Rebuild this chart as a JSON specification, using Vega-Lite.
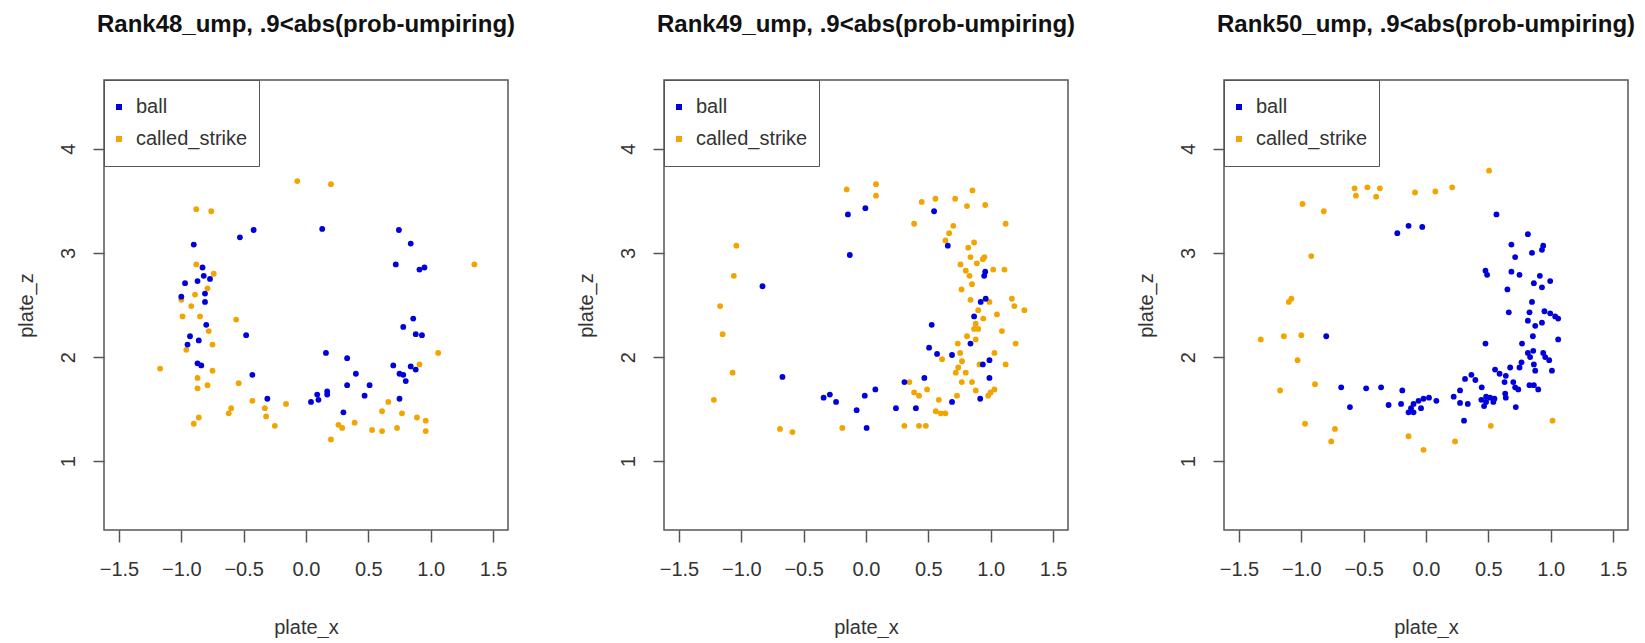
{
"$schema": "https://vega.github.io/schema/vega-lite/v6.json",
"background": "white",
"padding": {"left": 15, "top": 11, "right": 0, "bottom": 0},
"datasets": {
"p48": [
{"x":-0.07,"z":3.69,"t":"called_strike"},{"x":0.20,"z":3.66,"t":"called_strike"},{"x":-0.88,"z":3.42,"t":"called_strike"},{"x":-0.76,"z":3.40,"t":"called_strike"},{"x":-0.88,"z":2.89,"t":"called_strike"},{"x":-0.74,"z":2.80,"t":"called_strike"},{"x":-0.79,"z":2.66,"t":"called_strike"},{"x":-0.89,"z":2.60,"t":"called_strike"},{"x":-1.00,"z":2.55,"t":"called_strike"},{"x":-0.92,"z":2.49,"t":"called_strike"},{"x":-0.99,"z":2.39,"t":"called_strike"},{"x":-0.85,"z":2.39,"t":"called_strike"},{"x":-0.56,"z":2.36,"t":"called_strike"},{"x":-0.78,"z":2.25,"t":"called_strike"},{"x":-0.75,"z":2.12,"t":"called_strike"},{"x":-0.96,"z":2.07,"t":"called_strike"},{"x":-1.17,"z":1.89,"t":"called_strike"},{"x":-0.75,"z":1.87,"t":"called_strike"},{"x":-0.87,"z":1.80,"t":"called_strike"},{"x":-0.54,"z":1.75,"t":"called_strike"},{"x":-0.79,"z":1.73,"t":"called_strike"},{"x":-0.87,"z":1.70,"t":"called_strike"},{"x":-0.43,"z":1.58,"t":"called_strike"},{"x":-0.16,"z":1.55,"t":"called_strike"},{"x":-0.60,"z":1.51,"t":"called_strike"},{"x":-0.62,"z":1.46,"t":"called_strike"},{"x":-0.33,"z":1.51,"t":"called_strike"},{"x":-0.32,"z":1.43,"t":"called_strike"},{"x":-0.86,"z":1.42,"t":"called_strike"},{"x":-0.90,"z":1.36,"t":"called_strike"},{"x":-0.25,"z":1.34,"t":"called_strike"},{"x":0.26,"z":1.35,"t":"called_strike"},{"x":0.29,"z":1.32,"t":"called_strike"},{"x":0.39,"z":1.37,"t":"called_strike"},{"x":0.53,"z":1.30,"t":"called_strike"},{"x":0.20,"z":1.21,"t":"called_strike"},{"x":1.35,"z":2.89,"t":"called_strike"},{"x":1.06,"z":2.04,"t":"called_strike"},{"x":0.91,"z":1.93,"t":"called_strike"},{"x":0.66,"z":1.57,"t":"called_strike"},{"x":0.61,"z":1.48,"t":"called_strike"},{"x":0.77,"z":1.46,"t":"called_strike"},{"x":0.89,"z":1.42,"t":"called_strike"},{"x":0.96,"z":1.39,"t":"called_strike"},{"x":0.61,"z":1.29,"t":"called_strike"},{"x":0.73,"z":1.32,"t":"called_strike"},{"x":0.96,"z":1.29,"t":"called_strike"},
{"x":0.13,"z":3.23,"t":"ball"},{"x":-0.42,"z":3.22,"t":"ball"},{"x":-0.53,"z":3.15,"t":"ball"},{"x":-0.90,"z":3.08,"t":"ball"},{"x":-0.83,"z":2.86,"t":"ball"},{"x":-0.82,"z":2.78,"t":"ball"},{"x":-0.77,"z":2.75,"t":"ball"},{"x":-0.87,"z":2.73,"t":"ball"},{"x":-0.97,"z":2.71,"t":"ball"},{"x":-0.81,"z":2.61,"t":"ball"},{"x":-1.00,"z":2.58,"t":"ball"},{"x":-0.81,"z":2.53,"t":"ball"},{"x":-0.80,"z":2.31,"t":"ball"},{"x":-0.48,"z":2.21,"t":"ball"},{"x":-0.93,"z":2.20,"t":"ball"},{"x":-0.86,"z":2.16,"t":"ball"},{"x":-0.95,"z":2.12,"t":"ball"},{"x":0.16,"z":2.04,"t":"ball"},{"x":0.33,"z":1.99,"t":"ball"},{"x":-0.87,"z":1.94,"t":"ball"},{"x":-0.84,"z":1.92,"t":"ball"},{"x":-0.43,"z":1.83,"t":"ball"},{"x":0.40,"z":1.84,"t":"ball"},{"x":0.33,"z":1.73,"t":"ball"},{"x":0.51,"z":1.73,"t":"ball"},{"x":0.17,"z":1.67,"t":"ball"},{"x":0.17,"z":1.64,"t":"ball"},{"x":0.09,"z":1.64,"t":"ball"},{"x":0.10,"z":1.59,"t":"ball"},{"x":0.04,"z":1.57,"t":"ball"},{"x":0.47,"z":1.63,"t":"ball"},{"x":-0.31,"z":1.60,"t":"ball"},{"x":0.30,"z":1.47,"t":"ball"},{"x":0.745,"z":3.22,"t":"ball"},{"x":0.84,"z":3.09,"t":"ball"},{"x":0.72,"z":2.89,"t":"ball"},{"x":0.91,"z":2.84,"t":"ball"},{"x":0.95,"z":2.86,"t":"ball"},{"x":0.86,"z":2.37,"t":"ball"},{"x":0.78,"z":2.29,"t":"ball"},{"x":0.88,"z":2.22,"t":"ball"},{"x":0.93,"z":2.21,"t":"ball"},{"x":0.70,"z":1.92,"t":"ball"},{"x":0.84,"z":1.91,"t":"ball"},{"x":0.88,"z":1.88,"t":"ball"},{"x":0.75,"z":1.84,"t":"ball"},{"x":0.78,"z":1.83,"t":"ball"},{"x":0.80,"z":1.77,"t":"ball"},{"x":0.75,"z":1.60,"t":"ball"}
],
"p49": [
{"x":-0.155,"z":3.61,"t":"called_strike"},{"x":0.08,"z":3.66,"t":"called_strike"},{"x":0.08,"z":3.55,"t":"called_strike"},{"x":-1.04,"z":3.07,"t":"called_strike"},{"x":-1.06,"z":2.78,"t":"called_strike"},{"x":-1.17,"z":2.49,"t":"called_strike"},{"x":-1.15,"z":2.22,"t":"called_strike"},{"x":-1.07,"z":1.85,"t":"called_strike"},{"x":-1.22,"z":1.59,"t":"called_strike"},{"x":-0.69,"z":1.31,"t":"called_strike"},{"x":-0.59,"z":1.28,"t":"called_strike"},{"x":-0.19,"z":1.32,"t":"called_strike"},
{"x":0.447,"z":3.49,"t":"called_strike"},{"x":0.557,"z":3.52,"t":"called_strike"},{"x":0.715,"z":3.52,"t":"called_strike"},{"x":0.854,"z":3.60,"t":"called_strike"},{"x":0.81,"z":3.45,"t":"called_strike"},{"x":0.956,"z":3.46,"t":"called_strike"},{"x":0.386,"z":3.28,"t":"called_strike"},{"x":0.70,"z":3.26,"t":"called_strike"},{"x":0.667,"z":3.19,"t":"called_strike"},{"x":0.637,"z":3.12,"t":"called_strike"},{"x":1.12,"z":3.28,"t":"called_strike"},{"x":0.82,"z":3.05,"t":"called_strike"},{"x":0.867,"z":3.10,"t":"called_strike"},{"x":0.838,"z":2.96,"t":"called_strike"},{"x":0.758,"z":2.89,"t":"called_strike"},{"x":0.889,"z":2.90,"t":"called_strike"},{"x":0.937,"z":2.94,"t":"called_strike"},{"x":0.95,"z":2.96,"t":"called_strike"},{"x":0.80,"z":2.83,"t":"called_strike"},{"x":0.83,"z":2.78,"t":"called_strike"},{"x":1.02,"z":2.84,"t":"called_strike"},{"x":1.11,"z":2.84,"t":"called_strike"},{"x":0.766,"z":2.65,"t":"called_strike"},{"x":0.85,"z":2.70,"t":"called_strike"},{"x":0.838,"z":2.55,"t":"called_strike"},{"x":0.99,"z":2.53,"t":"called_strike"},{"x":1.17,"z":2.56,"t":"called_strike"},{"x":1.19,"z":2.49,"t":"called_strike"},{"x":1.27,"z":2.45,"t":"called_strike"},{"x":1.05,"z":2.41,"t":"called_strike"},{"x":0.90,"z":2.45,"t":"called_strike"},{"x":0.94,"z":2.37,"t":"called_strike"},{"x":0.88,"z":2.32,"t":"called_strike"},{"x":0.867,"z":2.27,"t":"called_strike"},{"x":0.90,"z":2.27,"t":"called_strike"},{"x":1.09,"z":2.25,"t":"called_strike"},{"x":0.81,"z":2.20,"t":"called_strike"},{"x":0.88,"z":2.17,"t":"called_strike"},{"x":1.20,"z":2.13,"t":"called_strike"},{"x":0.736,"z":2.13,"t":"called_strike"},{"x":0.61,"z":1.98,"t":"called_strike"},{"x":0.755,"z":2.04,"t":"called_strike"},{"x":0.77,"z":1.96,"t":"called_strike"},{"x":1.03,"z":2.04,"t":"called_strike"},{"x":0.91,"z":1.93,"t":"called_strike"},{"x":1.12,"z":1.93,"t":"called_strike"},{"x":0.74,"z":1.90,"t":"called_strike"},{"x":0.72,"z":1.85,"t":"called_strike"},{"x":0.80,"z":1.85,"t":"called_strike"},{"x":0.348,"z":1.76,"t":"called_strike"},{"x":0.768,"z":1.76,"t":"called_strike"},{"x":0.85,"z":1.76,"t":"called_strike"},{"x":0.49,"z":1.69,"t":"called_strike"},{"x":0.386,"z":1.66,"t":"called_strike"},{"x":0.425,"z":1.63,"t":"called_strike"},{"x":0.88,"z":1.68,"t":"called_strike"},{"x":1.03,"z":1.69,"t":"called_strike"},{"x":1.00,"z":1.66,"t":"called_strike"},{"x":0.98,"z":1.63,"t":"called_strike"},{"x":0.73,"z":1.63,"t":"called_strike"},{"x":0.584,"z":1.59,"t":"called_strike"},{"x":0.56,"z":1.48,"t":"called_strike"},{"x":0.60,"z":1.46,"t":"called_strike"},{"x":0.637,"z":1.46,"t":"called_strike"},{"x":0.308,"z":1.34,"t":"called_strike"},{"x":0.425,"z":1.34,"t":"called_strike"},{"x":0.48,"z":1.34,"t":"called_strike"},
{"x":-0.145,"z":3.37,"t":"ball"},{"x":-0.005,"z":3.43,"t":"ball"},{"x":-0.13,"z":2.98,"t":"ball"},{"x":-0.83,"z":2.68,"t":"ball"},{"x":-0.67,"z":1.81,"t":"ball"},{"x":-0.34,"z":1.61,"t":"ball"},{"x":-0.29,"z":1.64,"t":"ball"},{"x":-0.24,"z":1.57,"t":"ball"},{"x":-0.075,"z":1.49,"t":"ball"},{"x":-0.01,"z":1.63,"t":"ball"},{"x":0.075,"z":1.69,"t":"ball"},{"x":0.24,"z":1.51,"t":"ball"},{"x":0.005,"z":1.32,"t":"ball"},{"x":0.546,"z":3.40,"t":"ball"},{"x":0.656,"z":3.07,"t":"ball"},{"x":0.956,"z":2.82,"t":"ball"},{"x":0.948,"z":2.78,"t":"ball"},{"x":0.92,"z":2.53,"t":"ball"},{"x":0.96,"z":2.56,"t":"ball"},{"x":0.867,"z":2.39,"t":"ball"},{"x":0.527,"z":2.31,"t":"ball"},{"x":0.838,"z":2.13,"t":"ball"},{"x":0.506,"z":2.09,"t":"ball"},{"x":0.57,"z":2.03,"t":"ball"},{"x":0.69,"z":2.02,"t":"ball"},{"x":0.937,"z":1.93,"t":"ball"},{"x":0.99,"z":1.97,"t":"ball"},{"x":0.99,"z":1.80,"t":"ball"},{"x":0.468,"z":1.80,"t":"ball"},{"x":0.308,"z":1.76,"t":"ball"},{"x":0.916,"z":1.60,"t":"ball"},{"x":0.69,"z":1.57,"t":"ball"},{"x":0.40,"z":1.51,"t":"ball"}
],
"p50": [
{"x":-0.573,"z":3.62,"t":"called_strike"},{"x":-0.47,"z":3.63,"t":"called_strike"},{"x":-0.37,"z":3.62,"t":"called_strike"},{"x":-0.562,"z":3.55,"t":"called_strike"},{"x":-0.40,"z":3.54,"t":"called_strike"},{"x":-0.99,"z":3.47,"t":"called_strike"},{"x":-0.82,"z":3.40,"t":"called_strike"},{"x":-0.92,"z":2.97,"t":"called_strike"},{"x":-1.08,"z":2.56,"t":"called_strike"},{"x":-1.10,"z":2.53,"t":"called_strike"},{"x":-1.325,"z":2.17,"t":"called_strike"},{"x":-1.14,"z":2.20,"t":"called_strike"},{"x":-1.00,"z":2.21,"t":"called_strike"},{"x":-1.03,"z":1.97,"t":"called_strike"},{"x":-0.89,"z":1.74,"t":"called_strike"},{"x":-1.17,"z":1.68,"t":"called_strike"},{"x":-0.97,"z":1.36,"t":"called_strike"},{"x":-0.73,"z":1.31,"t":"called_strike"},{"x":-0.76,"z":1.19,"t":"called_strike"},{"x":-0.14,"z":1.24,"t":"called_strike"},{"x":0.506,"z":3.79,"t":"called_strike"},{"x":-0.088,"z":3.58,"t":"called_strike"},{"x":0.075,"z":3.59,"t":"called_strike"},{"x":0.21,"z":3.63,"t":"called_strike"},{"x":0.52,"z":1.34,"t":"called_strike"},{"x":1.015,"z":1.39,"t":"called_strike"},{"x":-0.02,"z":1.11,"t":"called_strike"},{"x":0.233,"z":1.19,"t":"called_strike"},
{"x":-0.23,"z":3.19,"t":"ball"},{"x":-0.14,"z":3.26,"t":"ball"},{"x":-0.03,"z":3.25,"t":"ball"},{"x":-0.80,"z":2.20,"t":"ball"},{"x":-0.68,"z":1.71,"t":"ball"},{"x":-0.48,"z":1.70,"t":"ball"},{"x":-0.36,"z":1.71,"t":"ball"},{"x":-0.19,"z":1.68,"t":"ball"},{"x":-0.61,"z":1.52,"t":"ball"},{"x":-0.30,"z":1.54,"t":"ball"},{"x":-0.20,"z":1.55,"t":"ball"},{"x":-0.14,"z":1.47,"t":"ball"},{"x":0.565,"z":3.37,"t":"ball"},{"x":0.817,"z":3.18,"t":"ball"},{"x":0.685,"z":3.08,"t":"ball"},{"x":0.94,"z":3.07,"t":"ball"},{"x":0.93,"z":3.03,"t":"ball"},{"x":0.85,"z":3.00,"t":"ball"},{"x":0.715,"z":2.96,"t":"ball"},{"x":0.477,"z":2.83,"t":"ball"},{"x":0.49,"z":2.79,"t":"ball"},{"x":0.685,"z":2.82,"t":"ball"},{"x":0.75,"z":2.79,"t":"ball"},{"x":0.913,"z":2.78,"t":"ball"},{"x":0.996,"z":2.73,"t":"ball"},{"x":0.865,"z":2.71,"t":"ball"},{"x":0.93,"z":2.67,"t":"ball"},{"x":0.653,"z":2.65,"t":"ball"},{"x":0.85,"z":2.53,"t":"ball"},{"x":0.664,"z":2.43,"t":"ball"},{"x":0.83,"z":2.43,"t":"ball"},{"x":0.95,"z":2.44,"t":"ball"},{"x":0.996,"z":2.42,"t":"ball"},{"x":1.036,"z":2.39,"t":"ball"},{"x":1.06,"z":2.37,"t":"ball"},{"x":0.817,"z":2.35,"t":"ball"},{"x":0.876,"z":2.30,"t":"ball"},{"x":0.93,"z":2.33,"t":"ball"},{"x":0.857,"z":2.20,"t":"ball"},{"x":1.06,"z":2.17,"t":"ball"},{"x":0.477,"z":2.13,"t":"ball"},{"x":0.77,"z":2.13,"t":"ball"},{"x":0.817,"z":2.04,"t":"ball"},{"x":0.86,"z":2.06,"t":"ball"},{"x":0.94,"z":2.04,"t":"ball"},{"x":0.835,"z":2.00,"t":"ball"},{"x":0.956,"z":2.00,"t":"ball"},{"x":0.865,"z":1.93,"t":"ball"},{"x":0.988,"z":1.97,"t":"ball"},{"x":0.766,"z":1.95,"t":"ball"},{"x":0.75,"z":1.90,"t":"ball"},{"x":0.675,"z":1.90,"t":"ball"},{"x":0.876,"z":1.87,"t":"ball"},{"x":1.01,"z":1.87,"t":"ball"},{"x":0.554,"z":1.88,"t":"ball"},{"x":0.59,"z":1.84,"t":"ball"},{"x":0.64,"z":1.82,"t":"ball"},{"x":0.63,"z":1.76,"t":"ball"},{"x":0.70,"z":1.76,"t":"ball"},{"x":0.715,"z":1.71,"t":"ball"},{"x":0.74,"z":1.69,"t":"ball"},{"x":0.83,"z":1.73,"t":"ball"},{"x":0.865,"z":1.73,"t":"ball"},{"x":0.90,"z":1.69,"t":"ball"},{"x":0.635,"z":1.65,"t":"ball"},{"x":0.64,"z":1.61,"t":"ball"},{"x":0.72,"z":1.52,"t":"ball"},{"x":0.364,"z":1.83,"t":"ball"},{"x":0.313,"z":1.79,"t":"ball"},{"x":0.396,"z":1.78,"t":"ball"},{"x":0.447,"z":1.71,"t":"ball"},{"x":0.273,"z":1.68,"t":"ball"},{"x":0.222,"z":1.62,"t":"ball"},{"x":0.273,"z":1.56,"t":"ball"},{"x":0.335,"z":1.55,"t":"ball"},{"x":0.444,"z":1.59,"t":"ball"},{"x":0.482,"z":1.62,"t":"ball"},{"x":0.514,"z":1.61,"t":"ball"},{"x":0.549,"z":1.60,"t":"ball"},{"x":0.482,"z":1.57,"t":"ball"},{"x":0.466,"z":1.53,"t":"ball"},{"x":0.54,"z":1.57,"t":"ball"},{"x":0.305,"z":1.39,"t":"ball"},{"x":0.083,"z":1.58,"t":"ball"},{"x":0.024,"z":1.61,"t":"ball"},{"x":-0.02,"z":1.60,"t":"ball"},{"x":-0.06,"z":1.58,"t":"ball"},{"x":-0.10,"z":1.55,"t":"ball"},{"x":-0.12,"z":1.51,"t":"ball"},{"x":-0.10,"z":1.47,"t":"ball"},{"x":-0.04,"z":1.51,"t":"ball"}
]
},
"hconcat": [
{"title": {"text": "Rank48_ump, .9<abs(prob-umpiring)"}, "width": 404, "height": 450, "data": {"name": "p48"},
 "mark": {"type": "point", "filled": true, "size": 34, "opacity": 1},
 "encoding": {
  "x": {"field": "x", "type": "quantitative", "scale": {"domain": [-1.62, 1.62], "nice": false, "zero": false}, "axis": {"title": "plate_x", "values": [-1.5, -1, -0.5, 0, 0.5, 1, 1.5], "format": ".1f"}},
  "y": {"field": "z", "type": "quantitative", "scale": {"domain": [0.34, 4.66], "nice": false, "zero": false}, "axis": {"title": "plate_z", "values": [1, 2, 3, 4], "format": "d"}},
  "color": {"field": "t", "type": "nominal", "scale": {"domain": ["ball", "called_strike"], "range": ["#0000dc", "#f2a500"]}, "legend": {"title": null}}
 }},
{"title": {"text": "Rank49_ump, .9<abs(prob-umpiring)"}, "width": 404, "height": 450, "data": {"name": "p49"},
 "mark": {"type": "point", "filled": true, "size": 34, "opacity": 1},
 "encoding": {
  "x": {"field": "x", "type": "quantitative", "scale": {"domain": [-1.62, 1.62], "nice": false, "zero": false}, "axis": {"title": "plate_x", "values": [-1.5, -1, -0.5, 0, 0.5, 1, 1.5], "format": ".1f"}},
  "y": {"field": "z", "type": "quantitative", "scale": {"domain": [0.34, 4.66], "nice": false, "zero": false}, "axis": {"title": "plate_z", "values": [1, 2, 3, 4], "format": "d"}},
  "color": {"field": "t", "type": "nominal", "scale": {"domain": ["ball", "called_strike"], "range": ["#0000dc", "#f2a500"]}, "legend": {"title": null}}
 }},
{"title": {"text": "Rank50_ump, .9<abs(prob-umpiring)"}, "width": 404, "height": 450, "data": {"name": "p50"},
 "mark": {"type": "point", "filled": true, "size": 34, "opacity": 1},
 "encoding": {
  "x": {"field": "x", "type": "quantitative", "scale": {"domain": [-1.62, 1.62], "nice": false, "zero": false}, "axis": {"title": "plate_x", "values": [-1.5, -1, -0.5, 0, 0.5, 1, 1.5], "format": ".1f"}},
  "y": {"field": "z", "type": "quantitative", "scale": {"domain": [0.34, 4.66], "nice": false, "zero": false}, "axis": {"title": "plate_z", "values": [1, 2, 3, 4], "format": "d"}},
  "color": {"field": "t", "type": "nominal", "scale": {"domain": ["ball", "called_strike"], "range": ["#0000dc", "#f2a500"]}, "legend": {"title": null}}
 }}
],
"spacing": 156,
"bounds": "flush",
"resolve": {"scale": {"color": "independent"}, "legend": {"color": "independent"}},
"config": {
 "font": "Liberation Sans",
 "view": {"stroke": "#555555", "strokeWidth": 1.5},
 "title": {"fontSize": 24, "fontWeight": "bold", "color": "#111111", "anchor": "middle", "frame": "group", "baseline": "alphabetic", "offset": 43, "font": "Liberation Sans"},
 "axis": {"domain": false, "grid": false, "tickColor": "#555555", "tickWidth": 1.5, "labelFontSize": 20, "labelColor": "#333333", "titleFontSize": 20, "titleFontWeight": "normal", "titleColor": "#333333", "labelFont": "Liberation Sans", "titleFont": "Liberation Sans"},
 "axisX": {"tickSize": 12, "labelPadding": 17, "labelAngle": 0, "titleBaseline": "alphabetic", "titleY": 103},
 "axisY": {"tickSize": 11, "labelPadding": 19, "labelAngle": 270, "labelAlign": "center", "labelBaseline": "alphabetic", "titleAngle": 270, "titleBaseline": "alphabetic", "titleX": -72, "titleY": 225, "titleAlign": "center"},
 "legend": {"orient": "top-left", "offset": 0, "padding": 11, "clipHeight": 32, "rowPadding": 0, "symbolOffset": -6, "strokeColor": "#555555", "symbolType": "square", "symbolSize": 36, "labelFontSize": 20, "labelColor": "#333333", "labelOffset": 7, "labelFont": "Liberation Sans"}
}
}
